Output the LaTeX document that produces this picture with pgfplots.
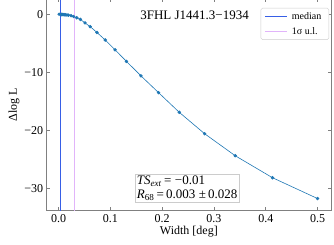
\documentclass[border=0pt]{standalone}
\usepackage{pgfplots}
\pgfplotsset{compat=1.18}
\usepackage{fontspec}
\setmainfont{Liberation Serif}
\definecolor{tabblue}{RGB}{31,119,180}
\definecolor{medblue}{RGB}{55,95,230}
\definecolor{ulviolet}{RGB}{225,180,250}
\definecolor{spinegray}{RGB}{128,128,128}
\definecolor{boxgray}{RGB}{204,204,204}
\begin{document}
\begin{tikzpicture}
\begin{axis}[
  name=ax,
  scale only axis,
  width=284.3pt, height=211.7pt,
  xmin=-0.023, xmax=0.526,
  ymin=-33.9, ymax=2.68,
  xtick={0,0.1,0.2,0.3,0.4,0.5},
  xticklabels={0.0,0.1,0.2,0.3,0.4,0.5},
  ytick={-30,-20,-10,0},
  yticklabels={−30,−20,−10,0},
  tick align=inside,
  major tick length=3.5pt,
  minor tick num=0,
  axis line style={draw=spinegray, line width=0.8pt},
  every tick/.style={draw=spinegray, line width=0.6pt},
  tick label style={font=\fontsize{12}{14}\selectfont, black},
  xlabel={Width [deg]},
  ylabel={Δlog L},
  label style={font=\fontsize{12}{14}\selectfont},
  xlabel style={yshift=3pt},
  ylabel style={yshift=-2pt},
  legend style={at={(axis description cs:1,1)}, anchor=north east, xshift=-2pt, yshift=-9pt,
    draw=boxgray, fill=white, rounded corners=1.5pt,
    font=\fontsize{10}{12}\selectfont, row sep=2.5pt, inner xsep=3.5pt,
    nodes={inner xsep=4pt}},
  legend cell align=left,
  legend image code/.code={\draw[#1] (0pt,0pt) -- (22pt,0pt);},
]
\addplot[draw=medblue, line width=0.9pt] coordinates {(0.003,-40) (0.003,10)};
\addlegendentry{median}
\addplot[draw=ulviolet, line width=1.5pt] coordinates {(0.031,-40) (0.031,10)};
\addlegendentry{1σ u.l.}
\addplot[draw=tabblue, line width=0.6pt, mark=*, mark size=1.4pt, mark options={fill=tabblue, draw=tabblue}, forget plot] coordinates {
(0.001,0.05) (0.005,0.0) (0.006,0.0) (0.008,-0.01) (0.009,-0.02) (0.011,-0.03)
(0.013,-0.05) (0.016,-0.08) (0.019,-0.12) (0.024,-0.2) (0.029,-0.35) (0.035,-0.55)
(0.042,-0.85) (0.051,-1.45) (0.061,-2.1) (0.074,-3.1) (0.090,-4.4) (0.109,-6.1)
(0.131,-8.1) (0.159,-10.6) (0.193,-13.5) (0.233,-16.9) (0.282,-20.6) (0.341,-24.4)
(0.413,-28.2) (0.500,-31.8)
};
\node[anchor=center, font=\fontsize{13}{14}\selectfont, inner sep=0pt] at (axis description cs:0.52,0.925) {3FHL J1441.3−1934};
\node[anchor=south west, draw=boxgray, fill=white, align=left,
  font=\fontsize{13}{13.5}\selectfont, inner sep=1.5pt] at (axis description cs:0.311,0.041)
  {\textit{TS}\textsubscript{\textit{ext}}\,=\;−0.01\\
   \textit{R}\textsubscript{68}\,=\,0.003\;±\,0.028};
\end{axis}
\pgfresetboundingbox
\useasboundingbox ([xshift=-46.7pt,yshift=-33.3pt]ax.south west) rectangle ([xshift=3pt,yshift=-1pt]ax.north east);
\end{tikzpicture}
\end{document}
